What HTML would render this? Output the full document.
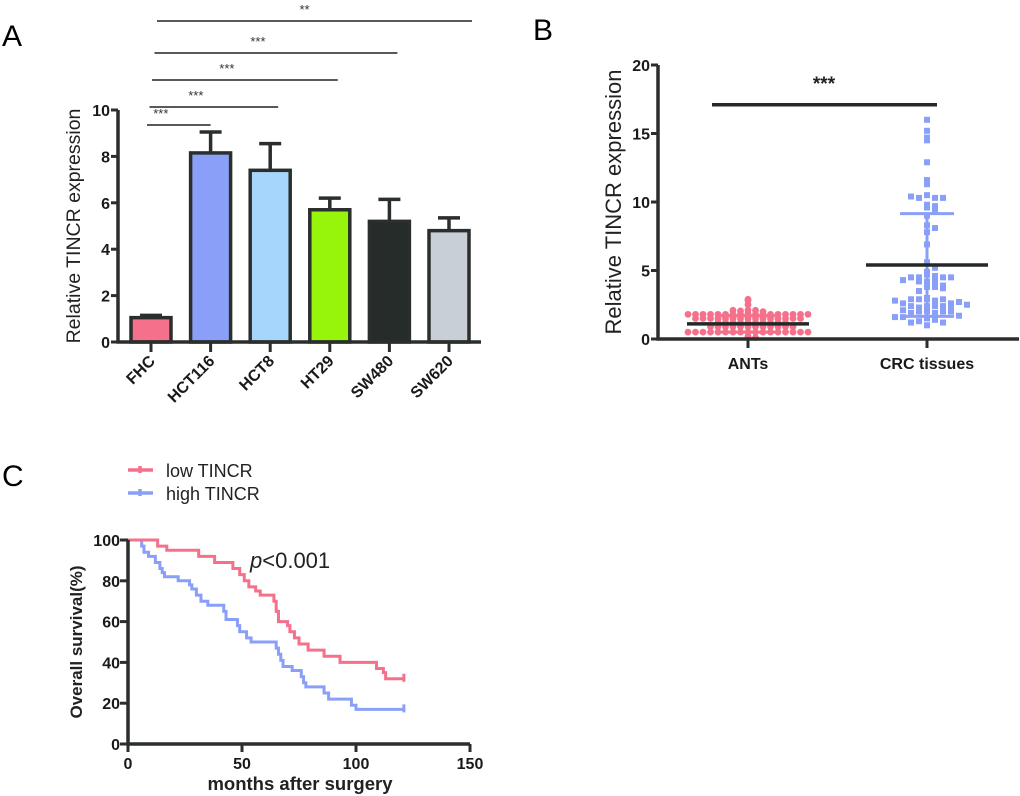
<!DOCTYPE html>
<html><head><meta charset="utf-8"><style>
body{margin:0;background:#fff}
svg{display:block;font-family:"Liberation Sans",sans-serif}
.tk{font-weight:bold;font-size:16px;fill:#1a1a1a}
</style></head><body>
<svg id="s" width="1020" height="796" viewBox="0 0 1020 796">
<text x="2" y="46" font-size="30">A</text>
<text x="533" y="40" font-size="30">B</text>
<text x="2" y="486" font-size="30">C</text>
<g id="ga"></g>
<g id="gb"></g>
<g id="gc"></g>
</svg>
<script>
// Panel A data
const aCats=["FHC","HCT116","HCT8","HT29","SW480","SW620"];
const aVals=[1.05,8.15,7.4,5.7,5.2,4.8];
const aErr=[0.1,0.9,1.15,0.5,0.95,0.55];
const aColors=["#f5708a","#8aa0f8","#a6d6fb","#96f50a","#252c2a","#c8d0d6"];
const aTicks=[0,2,4,6,8,10];
const aSigTo=[1,2,3,4,5];
const aSigLabels=["***","***","***","***","**"];
// Panel B data
const bCats=["ANTs","CRC tissues"];
const bAnts=[2.9,2.8,2.5,2.1,2.1,2.05,2.0,2.1,1.85,1.8,1.8,1.8,1.8,1.8,1.8,1.8,1.8,1.8,1.8,1.8,1.8,1.8,1.8,1.8,1.8,1.5,1.5,1.5,1.5,1.5,1.5,1.5,1.5,1.5,1.5,1.5,1.5,1.5,1.5,1.5,1.2,1.2,1.2,1.2,1.2,1.2,1.2,1.2,1.2,1.2,0.9,0.9,0.9,0.9,0.9,0.9,0.9,0.9,0.9,0.9,0.9,0.9,0.5,0.5,0.5,0.5,0.5,0.5,0.5,0.5,0.5,0.5,0.5,0.5,0.5,0.5,0.5,0.5,0.5,0.2,0.1,0.1];
const bCrc=[16.0,15.2,14.7,14.5,12.9,11.6,11.3,10.5,10.3,10.3,10.3,10.4,9.8,9.6,9.7,9.4,9.0,8.3,8.1,6.9,7.8,5.6,5.2,4.7,4.6,4.5,4.5,4.5,4.5,4.9,4.2,4.2,4.2,4.3,3.9,3.8,3.8,3.5,3.7,3.0,2.9,2.8,2.9,2.9,2.9,2.6,2.6,2.7,2.8,2.4,2.4,2.3,2.4,2.5,2.4,2.3,2.0,1.9,2.0,2.0,2.1,1.9,2.0,1.6,1.7,1.5,1.6,1.4,1.3,1.2,1.2,1.0];
const bMeans=[1.1,5.4];
const bSd=[0.6,3.75];
const bTicks=[0,5,10,15,20];
// Panel C data (time, survival%)
const cLowT=[13,17,31,38,46,49,51,53,56,58,64,65,66,70,71,73,75,79,86,93,109,112,113];
const cLowS=[97,95,92,89,86,83,80,77,75,73,70,65,60,58,55,52,49,46,43,40,37,35,32];
const cHighT=[6,7,9,12,14,15,16,22,27,28,30,32,35,42,43,48,49,52,54,65,66,67,68,72,76,77,78,86,88,98,100];
const cHighS=[97,94,92,89,86,84,82,80,78,76,73,70,68,65,61,58,55,52,50,47,44,41,38,36,33,30,28,25,22,19,17];
const cEnd=121;
const cXTicks=[0,50,100,150];
const cYTicks=[0,20,40,60,80,100];

const NS="http://www.w3.org/2000/svg";
function mk(p,tag,attrs,txt){const e=document.createElementNS(NS,tag);for(const k in attrs)e.setAttribute(k,attrs[k]);if(txt!==undefined)e.textContent=txt;p.appendChild(e);return e;}

// ---- Panel A
const ga=document.getElementById('ga');
const yA=v=>342-v*23.2, xA=i=>151+i*59.6;
aVals.forEach((v,i)=>{
 const cx=xA(i);
 const eb=mk(ga,'path',{d:`M${cx} ${yA(v)}V${yA(v+aErr[i])}M${cx-11} ${yA(v+aErr[i])}H${cx+11}`,stroke:'#2a2f2d','stroke-width':3.5,fill:'none'});
 
 
 const r=mk(ga,'rect',{x:cx-20,y:yA(v),width:40,height:yA(0)-yA(v),fill:aColors[i],stroke:'#2a2f2d','stroke-width':3.5});
 
 
 const tk=mk(ga,'line',{x1:cx,x2:cx,y1:342,y2:352,stroke:'#2a2f2d','stroke-width':3});
 
 
 const t=mk(ga,'text',{class:'tk',x:cx+5,y:362,'font-size':18,'text-anchor':'end',transform:`rotate(-45 ${cx+5} 362)`},aCats[i]);
 
 
});
mk(ga,'path',{d:`M118 ${yA(10)}V342H481`,stroke:'#2a2f2d','stroke-width':3.5,fill:'none'});
aTicks.forEach(v=>{
 const l=mk(ga,'line',{x1:111,x2:118,y1:yA(v),y2:yA(v),stroke:'#2a2f2d','stroke-width':3});
 
 
 const t=mk(ga,'text',{class:'tk',x:110,y:yA(v)+6,'font-size':17,'text-anchor':'end'},v);
 
 
});
const yt=mk(ga,'text',{x:80,y:226,'font-size':19.5,'text-anchor':'middle',fill:'#222',transform:'rotate(-90 80 226)'},'Relative TINCR expression');


const sigY=[125,107,80,53,21];
aSigTo.forEach((j,k)=>{
 const x1=147+k*2.5, x2=xA(j)+(k==4?23:(k==0?0:8));
 const l=mk(ga,'line',{x1:x1,x2:x2,y1:sigY[k],y2:sigY[k],stroke:'#222','stroke-width':1.6});
 
 
 const t=mk(ga,'text',{x:(x1+x2)/2-(k==4?10:18),y:sigY[k]-7,'font-size':13,'text-anchor':'middle',fill:'#333'},aSigLabels[k]);
 
 
});

// ---- Panel B
const gb=document.getElementById('gb');
const yB=v=>339-v*13.7, xB=[748,927];
function swarm(vals,bin,sp){
 const groups={};vals.forEach(v=>{const k=Math.round(v/bin);(groups[k]=groups[k]||[]).push(v);});
 const out=[];for(const k in groups){groups[k].forEach((v,i)=>{const off=i==0?0:(i%2?1:-1)*Math.ceil(i/2)*sp;out.push([v,off]);});}
 return out;
}
swarm(bAnts,0.3,7.5).forEach(([v,o])=>{
 const c=mk(gb,'circle',{cx:xB[0]+o,cy:yB(v),r:3.4,fill:'#f5708a'});
 
 
});
swarm(bCrc,0.45,8).forEach(([v,o])=>{
 const c=mk(gb,'rect',{x:xB[1]+o-3,y:yB(v)-3,width:6,height:6,fill:'#8aa0f8'});
 
 
});
bMeans.forEach((m,i)=>{
 const cx=xB[i],lo=m-bSd[i],hi=m+bSd[i];
 const col=i==0?'#f5708a':'#8aa0f8';
 const sd=mk(gb,'path',{d:`M${cx} ${yB(lo)}V${yB(hi)}M${cx-27} ${yB(lo)}H${cx+27}M${cx-27} ${yB(hi)}H${cx+27}`,stroke:col,'stroke-width':3,fill:'none'});
 
 
 const ml=mk(gb,'line',{x1:cx-61,x2:cx+61,y1:yB(m),y2:yB(m),stroke:'#232927','stroke-width':3.5});
 
 
 const tk=mk(gb,'line',{x1:cx,x2:cx,y1:339,y2:348,stroke:'#2a2f2d','stroke-width':3});
 
 
 const t=mk(gb,'text',{class:'tk',x:cx,y:369,'text-anchor':'middle','font-size':19},bCats[i]);
 
 
});
mk(gb,'path',{d:`M658 ${yB(20)}V339H1019`,stroke:'#2a2f2d','stroke-width':3.5,fill:'none'});
bTicks.forEach(v=>{
 const l=mk(gb,'line',{x1:651,x2:658,y1:yB(v),y2:yB(v),stroke:'#2a2f2d','stroke-width':3});
 
 
 const t=mk(gb,'text',{class:'tk',x:650,y:yB(v)+6,'font-size':17,'text-anchor':'end'},v);
 
 
});
const yb=mk(gb,'text',{x:621,y:202,'font-size':22,'text-anchor':'middle',fill:'#222',transform:'rotate(-90 621 202)'},'Relative TINCR expression');


mk(gb,'line',{x1:712,x2:937,y1:yB(17.1),y2:yB(17.1),stroke:'#232927','stroke-width':3.5});
mk(gb,'text',{x:824,y:90,'font-size':19,'font-weight':'bold','text-anchor':'middle',fill:'#222'},'***');

// ---- Panel C
const gc=document.getElementById('gc');
const xC=m=>128+m*2.28, yC=s=>744-s*2.04;
function km(T,S,col,name){
 let d=`M${xC(0)} ${yC(100)}`;
 T.forEach((t,i)=>{d+=`H${xC(t)}V${yC(S[i])}`;});
 d+=`H${xC(cEnd)}`;
 const last=S[S.length-1];
 d+=`M${xC(cEnd)} ${yC(last)-5}V${yC(last)+3}`;
 const p=mk(gc,'path',{d:d,stroke:col,'stroke-width':3,fill:'none'});
 
 
}
km(cHighT,cHighS,'#8aa0f8','high-tincr-curve');
km(cLowT,cLowS,'#f5708a','low-tincr-curve');
mk(gc,'path',{d:`M128 ${yC(100)}V744H470`,stroke:'#2a2f2d','stroke-width':3.5,fill:'none'});
cYTicks.forEach(v=>{
 const l=mk(gc,'line',{x1:120,x2:128,y1:yC(v),y2:yC(v),stroke:'#2a2f2d','stroke-width':3});
 
 
 const t=mk(gc,'text',{class:'tk',x:120,y:yC(v)+6,'font-size':17,'text-anchor':'end'},v);
 
 
});
cXTicks.forEach(v=>{
 const l=mk(gc,'line',{x1:xC(v),x2:xC(v),y1:744,y2:752,stroke:'#2a2f2d','stroke-width':3});
 
 
 const t=mk(gc,'text',{class:'tk',x:xC(v),y:769,'font-size':17,'text-anchor':'middle'},v);
 
 
});
mk(gc,'text',{x:300,y:790,'font-size':18.5,'font-weight':'bold','text-anchor':'middle',fill:'#222'},'months after surgery');
mk(gc,'text',{x:82,y:642,'font-size':17,'font-weight':'bold','text-anchor':'middle',fill:'#222',transform:'rotate(-90 82 642)'},'Overall survival(%)');
const pv=mk(gc,'text',{x:250,y:568,'font-size':22,fill:'#222'});

mk(pv,'tspan',{'font-style':'italic'},'p');mk(pv,'tspan',{},'<0.001');
[['low TINCR','#f5708a',470],['high TINCR','#8aa0f8',493]].forEach(([lab,col,y],i)=>{
 const g=mk(gc,'g',{});
 
 
 mk(g,'path',{d:`M128 ${y}H153M140 ${y-4}V${y+3}`,stroke:col,'stroke-width':3.5});
 mk(g,'text',{x:166,y:y+7,'font-size':18,fill:'#222'},lab);
});
</script>
</body></html>
